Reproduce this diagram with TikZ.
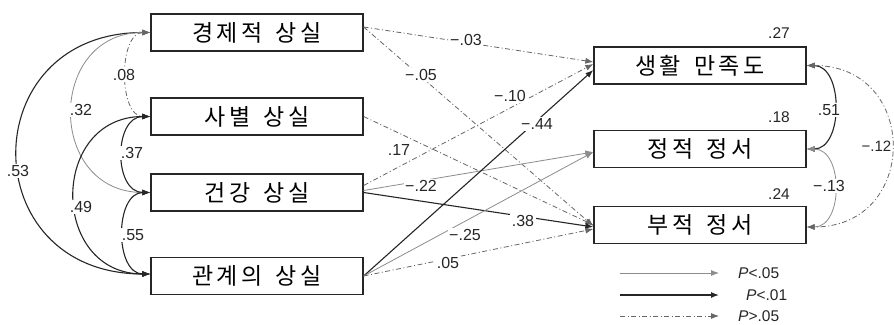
\documentclass[tikz,border=0pt]{standalone}
\usepackage{fontspec}
\setmainfont{Liberation Sans}
\newfontfamily\kr[LetterSpace=14]{Noto Sans CJK KR}
\usetikzlibrary{arrows.meta,calc}
\tikzset{
  box/.style={draw=black!85,line width=1.3pt,minimum width=212pt,minimum height=37pt,inner sep=0pt,font=\kr\fontsize{23}{23}\selectfont},
  lab/.style={fill=white,inner sep=1.5pt,font=\fontsize{16}{16}\selectfont,text=black!85},
  rsq/.style={inner sep=0pt,font=\fontsize{15.5}{15.5}\selectfont,text=black!85},
  tip/.style={-{Latex[length=8pt,width=6pt]}},
  both/.style={{Latex[length=8pt,width=6pt]}-{Latex[length=8pt,width=6pt]}},
  sigA/.style={draw=black!45,line width=0.8pt},
  sigB/.style={draw=black!85,line width=1.1pt},
  nsig/.style={draw=black!60,line width=0.8pt,dash pattern=on 5pt off 2.5pt on 1pt off 2.5pt},
}
\begin{document}
\begin{tikzpicture}[x=1pt,y=-1pt]
\useasboundingbox[fill=white] (0,0) rectangle (894,324);
% boxes
\node[box] (eco) at (257,32.5) {경제적\hspace{5pt} 상실};
\node[box] (ber) at (257,116.5) {사별\hspace{5pt} 상실};
\node[box] (hea) at (257,192.5) {건강\hspace{5pt} 상실};
\node[box] (rel) at (257,276) {관계의\hspace{5pt} 상실};
\node[box] (sat) at (700,65.5) {생활\hspace{5pt} 만족도};
\node[box] (pos) at (700,149) {정적\hspace{5pt} 정서};
\node[box] (neg) at (700,225) {부적\hspace{5pt} 정서};
% left correlations
\draw[sigB,both] (eco.west) .. controls +(-177,0) and +(-177,0) .. ([yshift=2pt]rel.west);
\draw[sigA,both] (eco.west) .. controls +(-104,0) and +(-104,0) .. (hea.west);
\draw[nsig,both] (eco.west) .. controls +(-32,0) and +(-32,0) .. (ber.west);
\draw[sigB,both] (ber.west) .. controls +(-37,0) and +(-37,0) .. (hea.west);
\draw[sigB,both] (ber.west) .. controls +(-101,0) and +(-101,0) .. ([yshift=2pt]rel.west);
\draw[sigB,both] (hea.west) .. controls +(-36,0) and +(-36,0) .. ([yshift=2pt]rel.west);
% right correlations
\draw[sigB,both] (sat.east) .. controls +(37,0) and +(37,0) .. (pos.east);
\draw[sigA,both] (pos.east) .. controls +(37,0) and +(37,0) .. ([yshift=-2pt]neg.east);
\draw[nsig,both] (sat.east) .. controls +(113,0) and +(113,0) .. ([yshift=-2pt]neg.east);
% paths
\draw[nsig,tip] ([yshift=5.5pt]eco.east) -- ([yshift=3.5pt]sat.west);
\draw[nsig,tip] ([yshift=5.5pt]eco.east) -- ([yshift=-1pt]neg.west);
\draw[nsig,tip] (ber.east) -- (neg.west);
\draw[nsig,tip] ([yshift=7pt]hea.east) -- ([yshift=1.5pt]sat.west);
\draw[sigA,tip] ([yshift=2pt]hea.east) -- ([yshift=-3pt]pos.west);
\draw[sigB,tip] (hea.east) -- ([yshift=-2pt]neg.west);
\draw[sigB,tip] (rel.east) -- ([yshift=-4.5pt]sat.west);
\draw[sigA,tip] (rel.east) -- ([yshift=-3pt]pos.west);
\draw[nsig,tip] (rel.east) -- ([yshift=-4pt]neg.west);
% labels left
\node[lab] (l53) at (18,171) {.53};
\node[lab] (l32) at (81,110) {.32};
\node[lab] (l08) at (124,75) {.08};
\node[lab] (l37) at (132,153) {.37};
\node[lab] (l49) at (81,207) {.49};
\node[lab] (l55) at (133,235) {.55};
% path labels
\node[lab] (p1) at (466,40) {−.03};
\node[lab] (p2) at (421,75) {−.05};
\node[lab] (p3) at (510,96) {−.10};
\node[lab] (p4) at (537,124) {−.44};
\node[lab] (p5) at (399,150) {.17};
\node[lab] (p6) at (421,186) {−.22};
\node[lab] (p7) at (523,221) {.38};
\node[lab] (p8) at (465,235) {−.25};
\node[lab] (p9) at (448,263) {.05};
% right labels
\node[rsq] (r1) at (779,33) {.27};
\node[rsq] (r2) at (779,117) {.18};
\node[rsq] (r3) at (779,194) {.24};
\node[lab] (c1) at (829,110) {.51};
\node[lab] (c2) at (829,186) {−.13};
\node[lab,anchor=west,inner sep=0.5pt,font=\fontsize{15}{15}\selectfont] (c3) at (861,146) {−.12};
% legend
\coordinate (a1) at (620,273); \coordinate (b1) at (719,273);
\coordinate (a2) at (620,295); \coordinate (b2) at (719,295);
\coordinate (a3) at (620,316); \coordinate (b3) at (719,316);
\draw[sigA,tip] (a1) -- (b1);
\draw[sigB,tip] (a2) -- (b2);
\draw[nsig,tip] (a3) -- (b3);
\node[rsq,anchor=west] (t1) at (738,273) {\textit{P}<.05};
\node[rsq,anchor=west] (t2) at (746,295) {\textit{P}<.01};
\node[rsq,anchor=west] (t3) at (738,316) {\textit{P}>.05};
\end{tikzpicture}
\end{document}
